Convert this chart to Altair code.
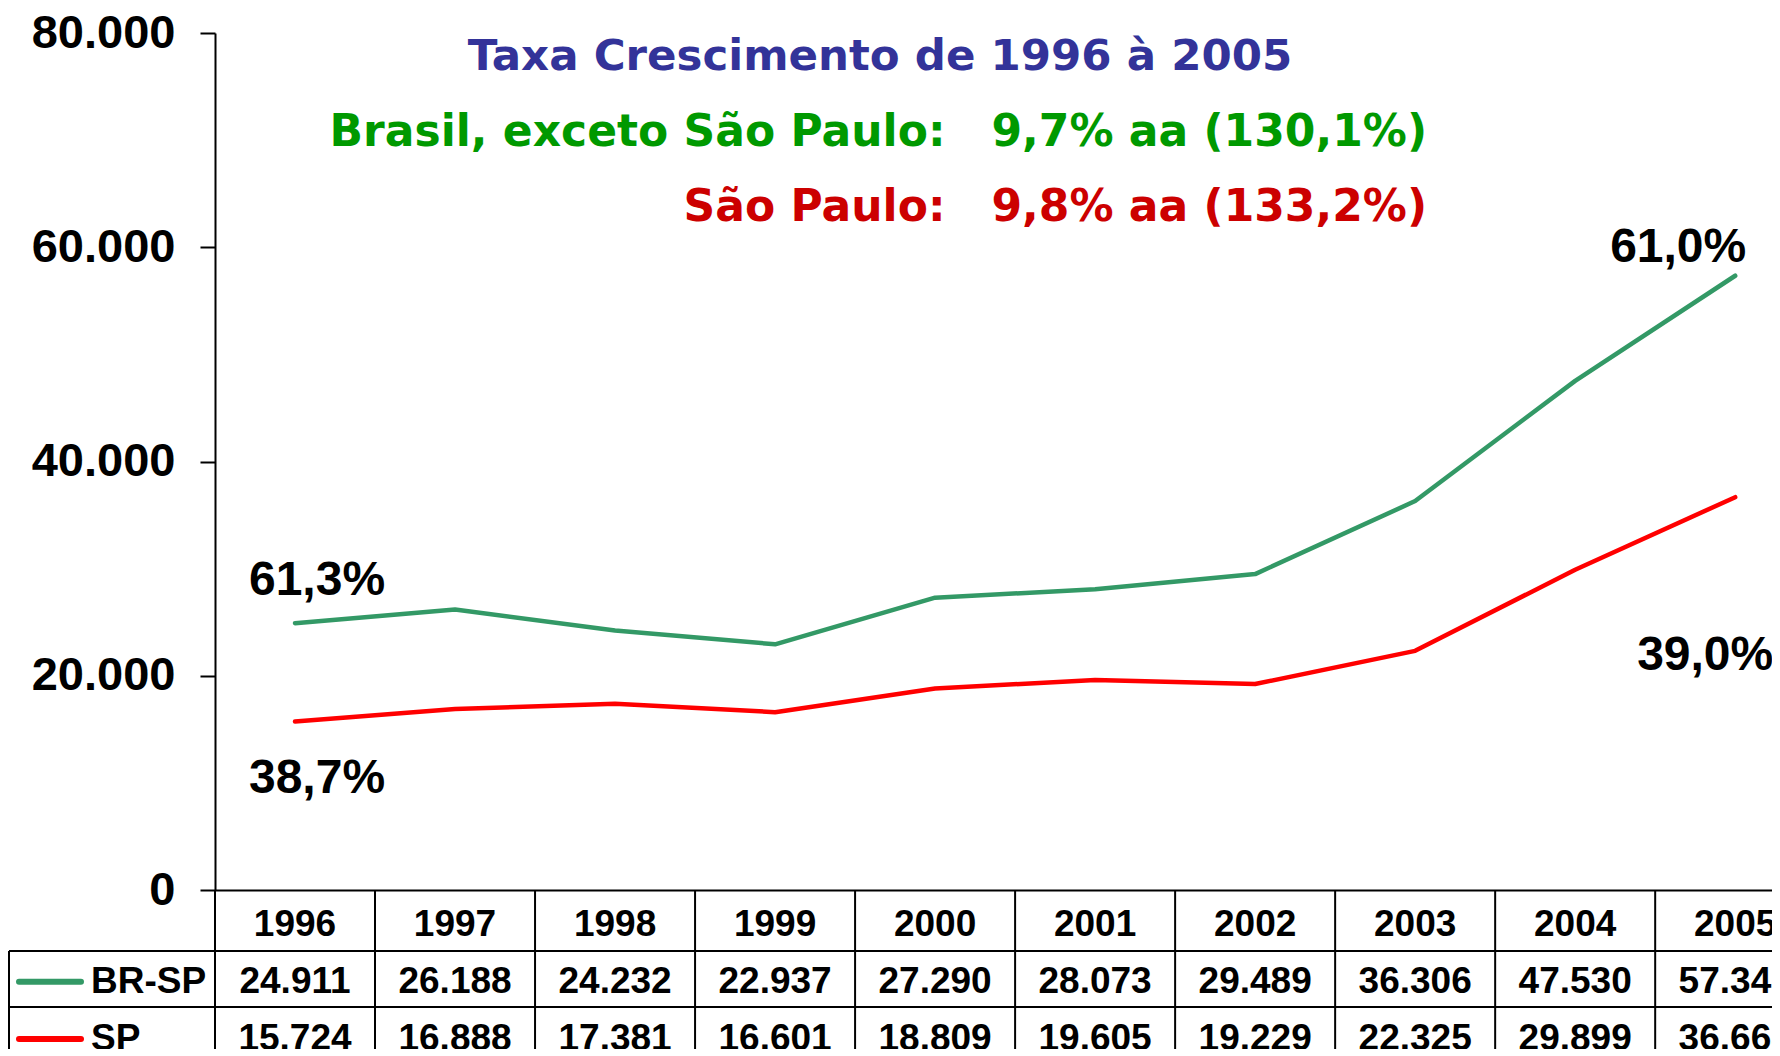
import altair as alt
import pandas as pd

# ---------------- data ----------------
years = [1996, 1997, 1998, 1999, 2000, 2001, 2002, 2003, 2004, 2005]
br_sp = [24911, 26188, 24232, 22937, 27290, 28073, 29489, 36306, 47530, 57340]
sp = [15724, 16888, 17381, 16601, 18809, 19605, 19229, 22325, 29899, 36668]
series_names = ["BR-SP", "SP"]
series_colors = ["#339966", "#FF0000"]
y_ticks = [0, 20000, 40000, 60000, 80000]
share_labels_first = ["61,3%", "38,7%"]   # 1996: BR-SP, SP
share_labels_last = ["61,0%", "39,0%"]    # 2005: BR-SP, SP
title_text = "Taxa Crescimento de 1996 à 2005"
line_br = "Brasil, exceto São Paulo:\u00a0\u00a0 9,7% aa (130,1%)"
line_sp = "São Paulo:\u00a0\u00a0 9,8% aa (133,2%)"


def fmt(v):
    return f"{v:,}".replace(",", ".")


idx = list(range(len(years)))
values = {"BR-SP": br_sp, "SP": sp}

long_df = pd.DataFrame(
    [{"idx": i, "year": y, "series": s, "value": values[s][i]}
     for s in series_names for i, y in enumerate(years)]
)

# ---------------- layout constants ----------------
W = 1565
H_TOP = 857
H_TAB = 166
X_DOMAIN = [-0.5, 9.28]
ROW_UNIT = 56.0
TAB_DOMAIN = [0, H_TAB / ROW_UNIT]
HEADER_BOTTOM = 61 / ROW_UNIT
ROW_BOTTOMS = [HEADER_BOTTOM, HEADER_BOTTOM + 1]
ROW_CENTERS = {"header": 0.62, "BR-SP": 1.64, "SP": 2.66}
LEFT_EDGE = -206

BOLD = "Liberation Sans"
TITLE_FONT = "DejaVu Sans"

xscale = alt.Scale(domain=X_DOMAIN, nice=False, zero=False)
color_scale = alt.Scale(domain=series_names, range=series_colors)

# ---------------- top chart ----------------
base = alt.Chart(long_df)

lines = base.mark_line(strokeWidth=4.5, strokeCap="round", strokeJoin="round").encode(
    x=alt.X("idx:Q", scale=xscale,
            axis=alt.Axis(ticks=False, labels=False, title=None, grid=False,
                          domainColor="black", domainWidth=2)),
    y=alt.Y("value:Q", scale=alt.Scale(domain=[0, 80000], nice=False),
            axis=alt.Axis(values=y_ticks, title=None, grid=False,
                          labelExpr="replace(format(datum.value, ','), ',', '.')",
                          labelFont=BOLD, labelFontSize=47, labelFontWeight="bold",
                          labelColor="black", labelPadding=25,
                          tickSize=15, tickColor="black", tickWidth=2,
                          domainColor="black", domainWidth=2)),
    color=alt.Color("series:N", scale=color_scale, legend=None),
    detail="series:N",
)

ann_specs = [
    ("BR-SP", 0, share_labels_first[0], 22, -42),
    ("SP", 0, share_labels_first[1], 22, 57),
    ("BR-SP", len(years) - 1, share_labels_last[0], -57, -28),
    ("SP", len(years) - 1, share_labels_last[1], -30, 159),
]
ann_layers = []
for s, i, lab, dx, dy in ann_specs:
    d = pd.DataFrame([{"idx": i, "value": values[s][i], "label": lab}])
    ann_layers.append(
        alt.Chart(d).mark_text(font=BOLD, fontSize=48, fontWeight="bold", color="black",
                               align="center", baseline="middle", dx=dx, dy=dy)
        .encode(x=alt.X("idx:Q", scale=xscale), y=alt.Y("value:Q"), text="label:N")
    )

tdf = pd.DataFrame([{"t": title_text, "l2": line_br, "l3": line_sp}])
title1 = alt.Chart(tdf).mark_text(font=TITLE_FONT, fontSize=43.5, fontWeight="bold",
                                  color="#333399", align="center", baseline="middle").encode(
    x=alt.value(665), y=alt.value(24), text="t:N")
title2 = alt.Chart(tdf).mark_text(font=TITLE_FONT, fontSize=44, fontWeight="bold",
                                  color="#009900", align="right", baseline="middle").encode(
    x=alt.value(1212), y=alt.value(100), text="l2:N")
title3 = alt.Chart(tdf).mark_text(font=TITLE_FONT, fontSize=44, fontWeight="bold",
                                  color="#CC0000", align="right", baseline="middle").encode(
    x=alt.value(1212), y=alt.value(175), text="l3:N")

top = alt.layer(lines, *ann_layers, title1, title2, title3).properties(width=W, height=H_TOP)

# ---------------- table chart ----------------
yscale_tab = alt.Scale(domain=TAB_DOMAIN, nice=False, zero=False, reverse=True)

cells = [{"idx": i, "row": ROW_CENTERS["header"], "text": str(y)} for i, y in enumerate(years)]
for s in series_names:
    for i in idx:
        cells.append({"idx": i, "row": ROW_CENTERS[s], "text": fmt(values[s][i])})
cells_df = pd.DataFrame(cells)

cell_text = alt.Chart(cells_df).mark_text(font=BOLD, fontSize=37, fontWeight="bold",
                                          color="black", align="center", baseline="middle",
                                          clip=True).encode(
    x=alt.X("idx:Q", scale=xscale, axis=None),
    y=alt.Y("row:Q", scale=yscale_tab, axis=None),
    text="text:N",
)

edges_df = pd.DataFrame({"edge": [i - 0.5 for i in idx]})
vlines = alt.Chart(edges_df).mark_rule(color="black", strokeWidth=2).encode(
    x=alt.X("edge:Q", scale=xscale, axis=None),
    y=alt.value(0), y2=alt.value(H_TAB),
)

hl_df = pd.DataFrame({"row": ROW_BOTTOMS})
hlines = alt.Chart(hl_df).mark_rule(color="black", strokeWidth=2).encode(
    y=alt.Y("row:Q", scale=yscale_tab, axis=None),
    x=alt.value(LEFT_EDGE), x2=alt.value(W),
)

lb_df = pd.DataFrame({"row": [HEADER_BOTTOM]})
left_border = alt.Chart(lb_df).mark_rule(color="black", strokeWidth=2).encode(
    y=alt.Y("row:Q", scale=yscale_tab, axis=None),
    y2=alt.value(H_TAB),
    x=alt.value(LEFT_EDGE),
)

leg_df = pd.DataFrame({"series": series_names, "row": [ROW_CENTERS[s] for s in series_names]})
swatch = alt.Chart(leg_df).mark_rule(strokeWidth=6, strokeCap="round").encode(
    y=alt.Y("row:Q", scale=yscale_tab, axis=None),
    x=alt.value(-196), x2=alt.value(-134),
    color=alt.Color("series:N", scale=color_scale, legend=None),
)
leg_text = alt.Chart(leg_df).mark_text(font=BOLD, fontSize=37, fontWeight="bold",
                                       color="black", align="left", baseline="middle").encode(
    y=alt.Y("row:Q", scale=yscale_tab, axis=None),
    x=alt.value(-124),
    text="series:N",
)

table = alt.layer(vlines, hlines, left_border, swatch, leg_text, cell_text).properties(
    width=W, height=H_TAB)

chart = alt.vconcat(top, table, spacing=0, bounds="flush").resolve_scale(
    x="independent", y="independent", color="shared"
).properties(
    padding={"left": 0, "top": 1, "right": -9, "bottom": -8},
).configure_view(strokeWidth=0)

chart.save("out.html", embed_options={"renderer": "svg", "actions": False})
